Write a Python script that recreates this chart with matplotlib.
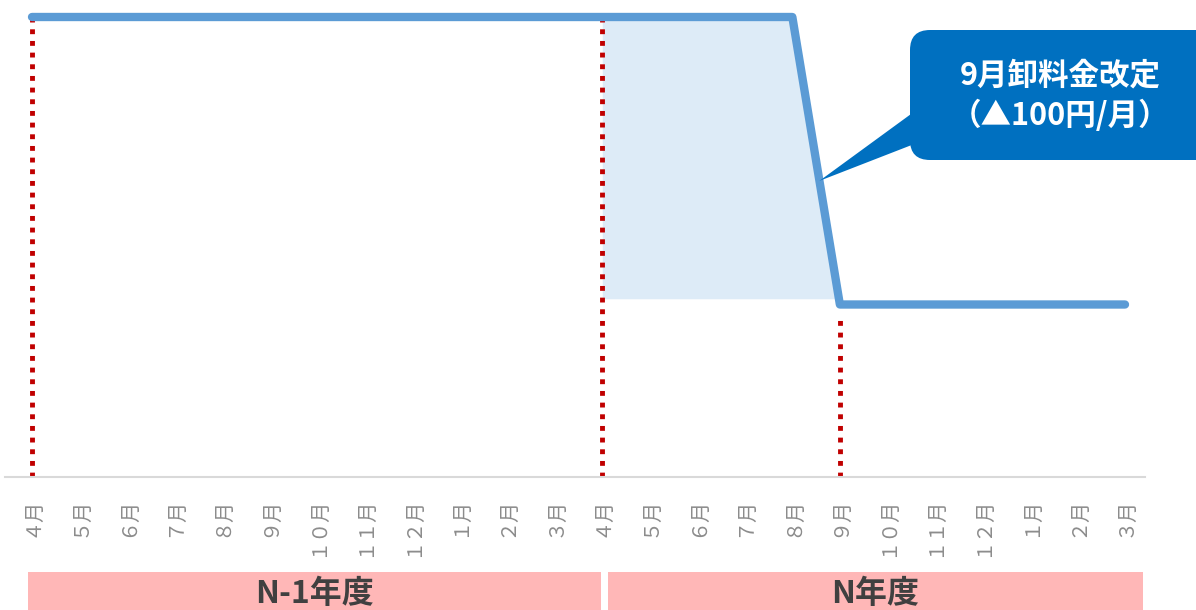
import matplotlib.pyplot as plt
import matplotlib.transforms as mtransforms
from matplotlib.patches import Rectangle, FancyBboxPatch, Polygon
import numpy as np

plt.rcParams['font.family'] = ['Noto Sans CJK JP', 'DejaVu Sans']

# data
months = ['４月', '５月', '６月', '７月', '８月', '９月', '１０月', '１１月', '１２月', '１月', '２月', '３月'] * 2
price = [160] * 17 + [60] * 7          # wholesale price level, drops 100 in N-year Sept
years = ['N-1年度', 'N年度']
revision_idx = 17                       # N-year Sept
callout_lines = ['9月卸料金改定', '（▲100円/月）']

W, H = 1196, 610
fig = plt.figure(figsize=(W / 100, H / 100), dpi=100)
ax = fig.add_axes([5 / W, (H - 477) / H, (1145 - 5) / W, 477 / H])

x = np.arange(len(price))
px_per = (1125 - 32) / 23
ax.set_xlim(-(32 - 5) / px_per, 23 + (1145 - 1125) / px_per)
ax.set_ylim(0, 160 + 17 / 2.875)

# shaded area for the N-year months before the revision
xs = x[12:revision_idx + 1]
ax.fill_between(xs, np.array(price[12:revision_idx + 1]), price[-1] + 2,
                color='#DDEBF7', lw=0, zorder=1)

# dotted red markers
for xi, top in [(0, price[0] - 0.8), (12, price[0] - 0.8), (revision_idx, price[-1] - 5)]:
    ax.plot([xi, xi], [0, top], color='#C00000', lw=3.5,
            linestyle=(0, (1, 1.4)), dash_capstyle='butt', zorder=2)

ax.plot(x, price, color='#5B9BD5', lw=6, solid_capstyle='round',
        solid_joinstyle='round', zorder=3)

for s in ['top', 'right', 'left']:
    ax.spines[s].set_visible(False)
ax.spines['bottom'].set_color('#D9D9D9')
ax.spines['bottom'].set_linewidth(1.5)
ax.set_yticks([])
ax.set_xticks(x)
ax.set_xticklabels(months, rotation=90, va='top', ha='center',
                   fontsize=14.5, color='#8C8C8C')
ax.tick_params(axis='x', length=0, pad=14)

# fiscal year bars
bt = mtransforms.blended_transform_factory(ax.transData, ax.transAxes)
bar_top = -(572 - 477) / 477
for (x0, x1), label in zip([(-0.08, 11.97), (12.12, 23.38)], years):
    ax.add_patch(Rectangle((x0, bar_top - 0.2), x1 - x0, 0.2, transform=bt,
                           color='#FFB7B7', lw=0, clip_on=False))
    ax.text((x0 + x1) / 2, bar_top - 0.012, label, transform=bt, ha='center', va='top',
            fontsize=23, fontweight='bold', color='#404040', clip_on=False)

# callout
fig.canvas.draw()
pix = mtransforms.Affine2D().scale(1 / W, 1 / H) + fig.transFigure
t = 0.57
tip_data = (16 + t, price[16] + (price[17] - price[16]) * t)
tip = fig.transFigure.inverted().transform(ax.transData.transform(tip_data))
tip = (tip[0] * W, tip[1] * H)
fig.patches.append(FancyBboxPatch((910, H - 160), 320, 130, boxstyle='round,pad=0,rounding_size=20',
                                  transform=pix, color='#0070C0', lw=0))
fig.patches.append(Polygon([(922, H - 106), (922, H - 141), tip], closed=True,
                           transform=pix, color='#0070C0', lw=0))
fig.text(1060 / W, (H - 76) / H, callout_lines[0], ha='center', va='center',
         fontsize=22, fontweight='bold', color='white')
fig.text(1060 / W, (H - 116) / H, callout_lines[1], ha='center', va='center',
         fontsize=22, fontweight='bold', color='white')

fig.savefig('out.png', dpi=100)
